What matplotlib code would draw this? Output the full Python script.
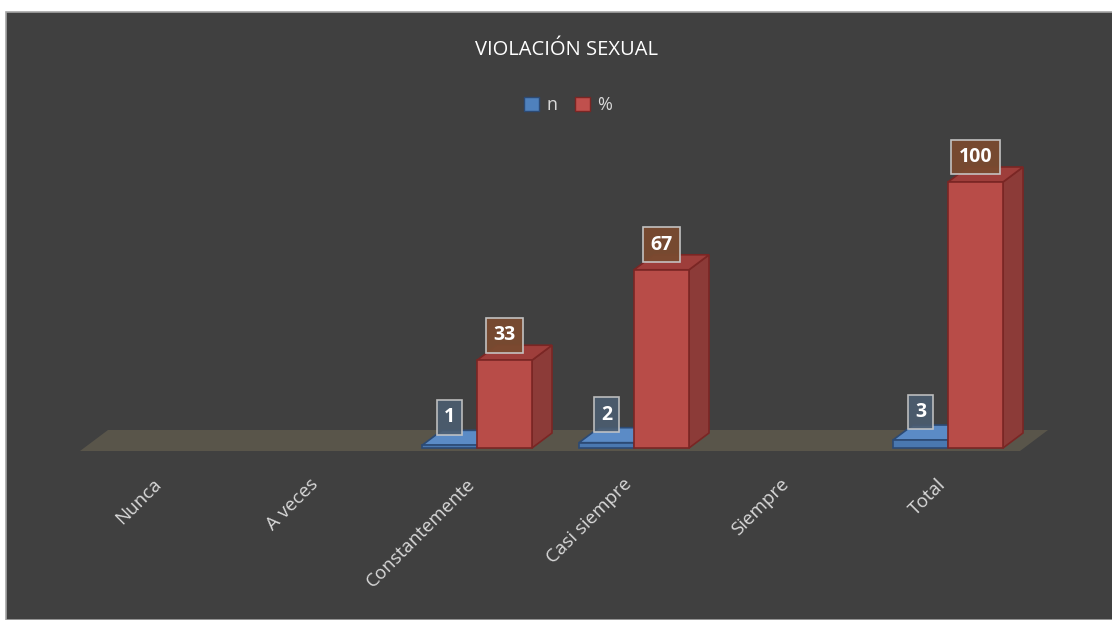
import matplotlib.pyplot as plt
from matplotlib.patches import Rectangle, Polygon, Patch

plt.rcParams['font.family'] = ['Open Sans', 'DejaVu Sans']

categories = ['Nunca', 'A veces', 'Constantemente', 'Casi siempre', 'Siempre', 'Total']
n_values = [0, 0, 1, 2, 0, 3]
pct_values = [0, 0, 33, 67, 0, 100]
title = 'VIOLACIÓN SEXUAL'

bg = '#404040'
text_col = '#d9d9d9'
blue = {'front': '#4a78b0', 'top': '#5b8bc6', 'side': '#365c8c', 'edge': '#2c4a74'}
red = {'front': '#b84c48', 'top': '#9e3e3b', 'side': '#8c3b38', 'edge': '#7a2624'}

W, H = 1112, 620
fig = plt.figure(figsize=(W / 100, H / 100), dpi=100)
fig.patch.set_facecolor('white')
# dark chart area with a thin grey border on top/left
fig.add_artist(Rectangle((6 / W, 0), 1, 1 - 12 / H, transform=fig.transFigure,
                         facecolor=bg, edgecolor='#a6a6a6', linewidth=1.2, zorder=-5))

ax = fig.add_axes([0, 0, 1, 1])
ax.set_zorder(1)
ax.set_facecolor('none')
ax.axis('off')

# pixel layout: category i centred at x = 163 + 157*i, y = 0 at 448 px, 100 at 182 px
px_per_cat = 157.0
px_per_val = 2.66
ax.set_xlim((0 - 163) / px_per_cat, (W - 163) / px_per_cat)
ax.set_ylim((448 - H) / px_per_val, 448 / px_per_val)

bw = 55 / px_per_cat
dx = 20 / px_per_cat
dy = 15 / px_per_val

# floor
fx0, fx1 = (80 - 163) / px_per_cat, (1020 - 163) / px_per_cat
fdx, fdy = 28 / px_per_cat, 21 / px_per_val
fy = -3 / px_per_val
ax.add_patch(Polygon([(fx0, fy), (fx1, fy), (fx1 + fdx, fy + fdy), (fx0 + fdx, fy + fdy)],
                     closed=True, facecolor='#59554a', edgecolor='none', zorder=1))


def bar3d(x0, v, c, z):
    x1 = x0 + bw
    ax.add_patch(Polygon([(x1, 0), (x1 + dx, dy), (x1 + dx, v + dy), (x1, v)],
                         facecolor=c['side'], edgecolor=c['edge'], lw=1.2, zorder=z))
    ax.add_patch(Polygon([(x0, v), (x1, v), (x1 + dx, v + dy), (x0 + dx, v + dy)],
                         facecolor=c['top'], edgecolor=c['edge'], lw=1.2, zorder=z))
    ax.add_patch(Rectangle((x0, 0), bw, v, facecolor=c['front'], edgecolor=c['edge'],
                           lw=1.2, zorder=z + 0.1))


for i in range(len(categories)):
    if n_values[i] > 0:
        bar3d(i - bw, n_values[i], blue, 2 + i)
        ax.text(i - bw / 2, n_values[i] + 28 / px_per_val, str(n_values[i]),
                ha='center', va='center', fontsize=14, fontweight='bold', color='white',
                zorder=20,
                bbox=dict(boxstyle='square,pad=0.38', facecolor='#4c5d70', alpha=0.9,
                          edgecolor='#c8c8c8', linewidth=1.2))
    if pct_values[i] > 0:
        bar3d(i, pct_values[i], red, 2.5 + i)
        ax.text(i + bw / 2, pct_values[i] + 25 / px_per_val, str(pct_values[i]),
                ha='center', va='center', fontsize=14, fontweight='bold', color='white',
                zorder=20,
                bbox=dict(boxstyle='square,pad=0.38', facecolor='#7a4a30', alpha=0.95,
                          edgecolor='#c8c8c8', linewidth=1.2))
    ax.text(i + 0.01, -27 / px_per_val, categories[i], rotation=45, ha='right', va='top',
            fontsize=13.5, color=text_col)

fig.text(566 / W, 1 - 50 / H, title, ha='center', va='center', fontsize=14.5, color='white')

handles = [Patch(facecolor='#4f81bd', edgecolor='#2c4a74', label='n'),
           Patch(facecolor='#c0504d', edgecolor='#7a2624', label='%')]
fig.legend(handles=handles, loc='center', bbox_to_anchor=(568 / W, 1 - 105 / H), ncol=2,
           frameon=False, fontsize=13, labelcolor=text_col, handlelength=0.8,
           handleheight=0.8, handletextpad=0.4, columnspacing=1.0)

fig.savefig('out.png', dpi=100, facecolor='white')
